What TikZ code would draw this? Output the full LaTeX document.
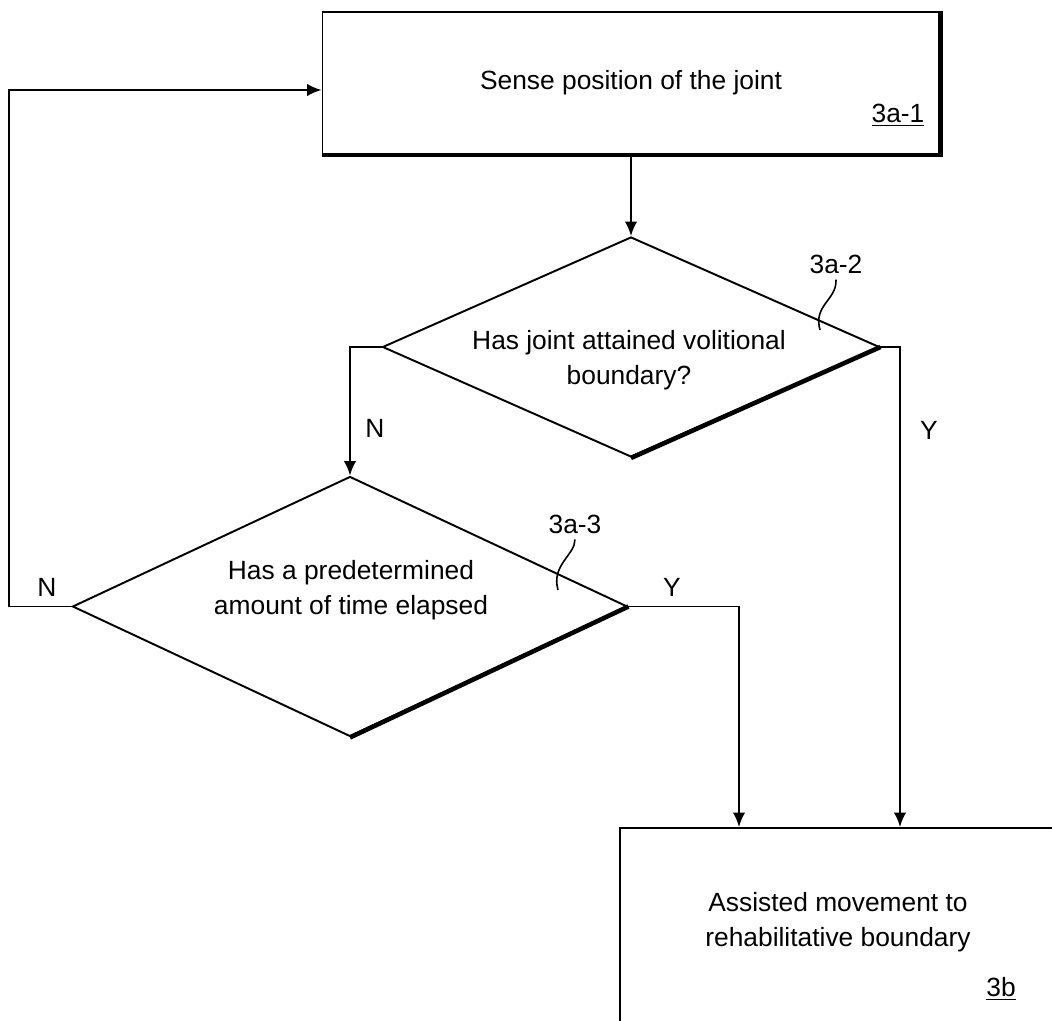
\documentclass[tikz,border=0pt]{standalone}
\usepackage{fontspec}
\setmainfont{Liberation Sans}
\usepackage{tikz}
\usetikzlibrary{shapes.geometric}
\usetikzlibrary{arrows.meta}
\tikzset{
    >={Latex[length=2.9mm,width=2.5mm]},
    every node/.style={font=\fontsize{15}{20}\selectfont},
    box/.style={shape=rectangle, draw=black, line width=1.1pt, inner sep=0pt},
    decision/.style={shape=diamond, draw=black, line width=1.1pt, inner sep=0pt},
    txt/.style={align=center},
    thickedge/.style={line width=2.6pt},
    flow/.style={->, line width=1.1pt},
    squiggle/.style={line width=0.9pt}}

\begin{document}
\begin{tikzpicture}

    \useasboundingbox (0,0) rectangle (21.04,-20.42);
    \clip (0,0) rectangle (21.04,-20.42);

    \node[box, minimum width=12.34cm, minimum height=2.84cm] (sense) at (12.62,-1.66) {Sense position of the joint};
    \node (sensenum) at (17.96,-2.3) {\underline{3a-1}};
    \draw[thickedge] (sense.north east) -- (sense.south east) -- (sense.south west);

    \node[decision, minimum width=9.94cm, minimum height=4.4cm] (volition) at (12.62,-6.94) {};
    \node[txt] (volitiontext) at (12.58,-7.2) {Has joint attained volitional\\boundary?};
    \draw[thickedge] (volition.east) -- (volition.south);

    \node[decision, minimum width=11.1cm, minimum height=5.2cm] (elapsed) at (7.0,-12.13) {};
    \node[txt] (elapsedtext) at (7.02,-11.8) {Has a predetermined\\amount of time elapsed};
    \draw[thickedge] (elapsed.east) -- (elapsed.south);

    \node[box, minimum width=9cm, minimum height=5cm, anchor=north west] (assist) at (12.38,-16.54) {};
    \node[txt] (assisttext) at (16.76,-18.44) {Assisted movement to\\rehabilitative boundary};
    \node (assistnum) at (20.02,-19.78) {\underline{3b}};

    \node (volnum) at (16.72,-5.28) {3a-2};
    \coordinate (voltip) at (16.4,-6.6);
    \draw[squiggle] (volnum.south) .. controls (16.74,-6.0) and (16.26,-6.1) .. (voltip);

    \node (elnum) at (11.5,-10.48) {3a-3};
    \coordinate (eltip) at (11.16,-11.8);
    \draw[squiggle] (elnum.south) .. controls (11.5,-11.1) and (11.02,-11.3) .. (eltip);

    \coordinate (yes1) at (18.0,-16.54);
    \coordinate (yes2) at (14.78,-16.54);
    \coordinate (back) at (0.18,-1.8);

    \draw[flow] (sense) -- (volition);
    \draw[flow] (volition.west) -| (elapsed.north);
    \draw[flow] (volition.east) -| (yes1);
    \draw[flow] (elapsed.east) -| (yes2);
    \draw[flow] (elapsed.west) -| (back) -- (back -| sense.west);

    \node (nvol) at (7.5,-8.56) {N};
    \node (yvol) at (18.58,-8.6) {Y};
    \node (nel) at (0.94,-11.74) {N};
    \node (yel) at (13.44,-11.74) {Y};

\end{tikzpicture}
\end{document}
